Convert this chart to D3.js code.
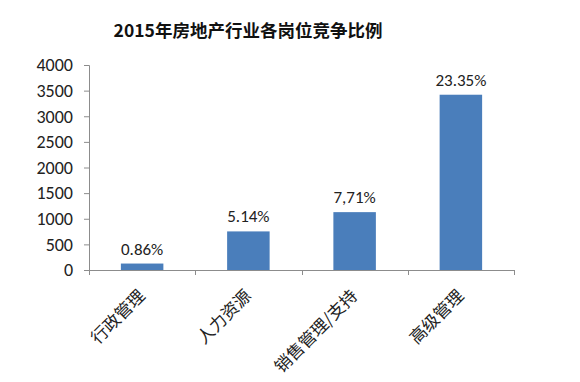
<!DOCTYPE html>
<html><head><meta charset="utf-8">
<script src="https://cdn.jsdelivr.net/npm/d3@7"></script>
<style>body{margin:0;background:#fff}svg{display:block}</style>
</head><body>
<svg id="c" width="580" height="382"></svg>
<script>
const title = "2015年房地产行业各岗位竞争比例";
const categories = ["行政管理", "人力资源", "销售管理/支持", "高级管理"];
const values = [126, 753, 1129, 3420];
const labels = ["0.86%", "5.14%", "7,71%", "23.35%"];
const yTicks = [0, 500, 1000, 1500, 2000, 2500, 3000, 3500, 4000];

(function () {
const svg = d3.select("#c");
const mLeft = 89, mRight = 514, mTop = 65, mBottom = 270;
const x = d3.scaleBand().domain(categories).range([mLeft, mRight]).paddingInner(0.6).paddingOuter(0.3);
const y = d3.scaleLinear().domain([0, 4000]).range([mBottom, mTop]);
const axisColor = "#8c8c8c";

svg.append("text").attr("x", 248).attr("y", 37).attr("text-anchor", "middle")
  .attr("font-family", "'Noto Sans CJK SC', sans-serif").attr("font-weight", "bold")
  .attr("font-size", 17.5).attr("fill", "#111").text(title);

const ya = svg.append("g").attr("transform", `translate(${mLeft},0)`)
  .call(d3.axisLeft(y).tickValues(yTicks).tickSize(5).tickPadding(11).tickFormat(d3.format("d")));
ya.select(".domain").attr("stroke", axisColor);
ya.selectAll(".tick line").attr("stroke", axisColor);
ya.selectAll("text").attr("font-family", "Carlito, 'Liberation Sans', sans-serif").attr("font-size", 18).attr("fill", "#222");

const step = x.step();
const bounds = d3.range(categories.length + 1).map(i => mLeft + i * step);
svg.append("line").attr("x1", mLeft).attr("x2", mRight).attr("y1", mBottom + 0.5).attr("y2", mBottom + 0.5).attr("stroke", axisColor);
svg.selectAll(".bt").data(bounds).join("line").attr("class", "bt")
  .attr("x1", d => Math.round(d) + 0.5).attr("x2", d => Math.round(d) + 0.5)
  .attr("y1", mBottom).attr("y2", mBottom + 5).attr("stroke", axisColor);

svg.selectAll(".bar").data(values).join("rect").attr("class", "bar")
  .attr("x", (d, i) => x(categories[i])).attr("width", x.bandwidth())
  .attr("y", d => y(d)).attr("height", d => y(0) - y(d)).attr("fill", "#4a7ebb");

svg.selectAll(".lbl").data(values).join("text").attr("class", "lbl")
  .attr("x", (d, i) => x(categories[i]) + x.bandwidth() / 2).attr("y", d => y(d) - 9)
  .attr("text-anchor", "middle").attr("font-family", "Carlito, 'Liberation Sans', sans-serif")
  .attr("font-size", 17).attr("fill", "#222").text((d, i) => labels[i]);

svg.selectAll(".cat").data(categories).join("text").attr("class", "cat")
  .attr("transform", d => `translate(${x(d) + x.bandwidth() / 2 + 4},${mBottom + 27}) rotate(-45)`)
  .attr("text-anchor", "end").attr("font-family", "'Noto Sans CJK SC', sans-serif")
  .attr("font-size", 17).attr("fill", "#222").text(d => d);
})();
</script>
</body></html>
